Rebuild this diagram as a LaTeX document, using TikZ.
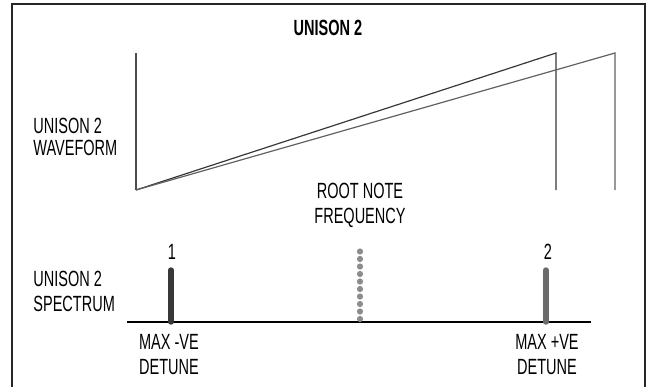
\documentclass[tikz,border=0pt]{standalone}
\usepackage{fontspec}
\setmainfont{Liberation Sans}[FakeStretch=0.66]
\usepackage{xcolor}
\usepackage{tikz}
\usetikzlibrary{positioning,calc}

\begin{document}
\begin{tikzpicture}[x=0.5pt, y=-0.5pt, >=stealth,
  lbl/.style={align=left, font=\fontsize{11}{12.5}\selectfont, inner sep=0pt},
  ctr/.style={align=center, font=\fontsize{11}{12.5}\selectfont, inner sep=0pt},
  wave/.style={line width=0.6pt, black!70},
  bar/.style={line width=2.7pt, line cap=round}]
\useasboundingbox (0,0) rectangle (649,387);
\draw[line width=1pt, black!85] (12,387) -- (12,4) -- (645,4) -- (645,387);
\node[ctr, font=\fontsize{11}{11}\selectfont\bfseries] (title) at (328,28) {UNISON 2};
% waveform
\coordinate (w0) at (136,190);
\coordinate (wtop) at (136,53);
\coordinate (p1) at (556,53);
\coordinate (e1) at (556,190);
\coordinate (p2) at (615,53);
\coordinate (e2) at (615,190);
\draw[wave] (wtop) -- (w0);
\draw[wave, black!78] (w0) -- (p1) -- (e1);
\draw[wave, black!62] (w0) -- (p2) -- (e2);
\node[lbl, anchor=west, font=\fontsize{11}{11}\selectfont] (wavelbl) at (33,137) {UNISON 2\\WAVEFORM};
% spectrum
\node[lbl, anchor=west] (speclbl) at (33,291) {UNISON 2\\SPECTRUM};
\coordinate (axl) at (127,322);
\coordinate (axr) at (591,322);
\draw[line width=1.2pt] (axl) -- (axr);
\coordinate (b1) at (171,322);
\coordinate (t1) at (171,270);
\coordinate (b2) at (546,322);
\coordinate (t2) at (546,270);
\coordinate (rb) at (360,319);
\coordinate (rt) at (360,244);
\draw[bar, black!78] (b1) -- (t1);
\draw[bar, black!58] (b2) -- (t2);
\draw[line width=3.1pt, line cap=round, black!45, dash pattern=on 0pt off 3.75pt] (rb) -- (rt);
\node[ctr] (n1) at (172,252) {1};
\node[ctr] (n2) at (548,252) {2};
\node[ctr] (root) at (360,205) {ROOT NOTE\\FREQUENCY};
\node[ctr] (minus) at (169,355) {MAX -VE\\DETUNE};
\node[ctr] (plus) at (547,355) {MAX +VE\\DETUNE};
\end{tikzpicture}
\end{document}
